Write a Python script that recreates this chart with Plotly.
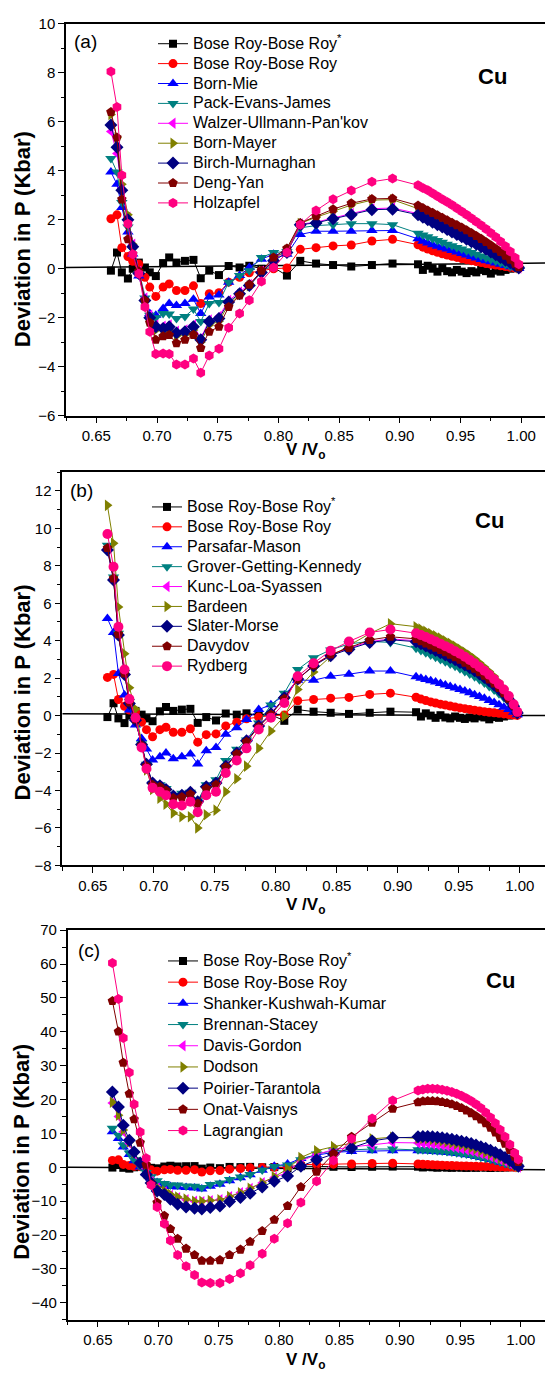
import plotly.graph_objects as go

# ---------------- data ----------------
V = [0.662, 0.667, 0.671, 0.676, 0.680, 0.685, 0.690, 0.694, 0.699, 0.705,
     0.710, 0.716, 0.723, 0.730, 0.736, 0.743, 0.751, 0.759, 0.768, 0.776,
     0.786, 0.796, 0.807, 0.818, 0.831, 0.845, 0.860, 0.877, 0.894,
     0.915, 0.919, 0.923, 0.927, 0.931, 0.935, 0.939, 0.943, 0.947, 0.951,
     0.955, 0.959, 0.963, 0.967, 0.971, 0.975, 0.979, 0.983, 0.987, 0.991,
     0.995, 0.998]

bose_roy_star = [-0.08, 0.66, -0.15, -0.40, 0.00, 0.25, 0.05, -0.15, -0.30, 0.23, 0.46, 0.25, 0.32, 0.36, -0.39, -0.08, -0.26, 0.11, 0.05, 0.12, 0.00, 0.05, -0.28, 0.32, 0.21, 0.15, 0.09, 0.15, 0.21,
                 0.18, -0.05, 0.12, 0.00, -0.12, 0.02, -0.10, -0.15, -0.05, -0.12, -0.18, -0.10, -0.15, -0.05, -0.10, -0.20, -0.08, -0.12, -0.05, 0.00, 0.05, 0.10]
bose_roy = [2.04, 2.20, 0.86, 0.50, 0.30, 0.19, -0.35, -0.75, -1.13, -0.75, -0.62, -0.89, -0.89, -0.70, -1.42, -1.02, -0.98, -0.55, -0.35, -0.17, -0.08, 0.00, 0.03, 0.79, 0.86, 0.93, 0.97, 1.13, 1.20,
            0.98, 0.88, 0.80, 0.73, 0.67, 0.61, 0.56, 0.51, 0.46, 0.41, 0.37, 0.33, 0.29, 0.25, 0.21, 0.18, 0.15, 0.12, 0.09, 0.06, 0.03, 0.01]

# panel (a)
born_mie = [3.95, 3.45, 2.50, 1.50, 0.60, -0.30, -1.22, -1.83, -1.90, -1.62, -1.42, -1.50, -1.42, -1.25, -1.83, -1.16, -1.07, -0.55, -0.28, 0.05, 0.39, 0.59, 0.59, 1.40, 1.53, 1.53, 1.53, 1.56, 1.56,
            1.22, 1.12, 1.05, 0.98, 0.92, 0.86, 0.80, 0.74, 0.68, 0.62, 0.56, 0.50, 0.44, 0.38, 0.33, 0.28, 0.23, 0.18, 0.13, 0.08, 0.04, 0.01]
pack_evans_james = [4.50, 3.95, 2.70, 1.70, 0.80, -0.20, -1.20, -1.90, -2.00, -1.83, -1.85, -2.03, -1.95, -1.65, -2.16, -1.42, -1.38, -0.55, -0.28, -0.08, 0.46, 0.66, 0.70, 1.67, 1.76, 1.80, 1.84, 1.84, 1.80,
                    1.45, 1.38, 1.30, 1.22, 1.15, 1.08, 1.00, 0.94, 0.87, 0.80, 0.73, 0.66, 0.59, 0.52, 0.45, 0.38, 0.31, 0.24, 0.17, 0.10, 0.05, 0.01]
walzer = [5.60, 4.70, 3.30, 2.10, 1.00, -0.10, -1.20, -1.90, -2.30, -2.35, -2.30, -2.55, -2.50, -2.30, -2.85, -2.10, -1.95, -1.30, -0.95, -0.65, -0.10, 0.35, 0.68, 1.82, 1.90, 2.08, 2.25, 2.45, 2.48,
          2.25, 2.15, 2.05, 1.95, 1.85, 1.75, 1.65, 1.55, 1.45, 1.35, 1.25, 1.15, 1.04, 0.93, 0.82, 0.70, 0.59, 0.48, 0.36, 0.25, 0.13, 0.03]
born_mayer = [6.30, 5.35, 3.45, 2.20, 1.00, -0.10, -1.30, -2.00, -2.50, -2.55, -2.50, -2.75, -2.70, -2.50, -3.00, -2.30, -2.15, -1.45, -1.05, -0.70, -0.10, 0.40, 0.75, 1.85, 2.10, 2.35, 2.60, 2.80, 2.82,
              2.45, 2.35, 2.25, 2.15, 2.05, 1.95, 1.85, 1.75, 1.64, 1.53, 1.42, 1.30, 1.18, 1.06, 0.93, 0.80, 0.67, 0.54, 0.41, 0.28, 0.14, 0.04]
birch_murnaghan = [5.87, 4.96, 3.20, 2.00, 0.90, -0.20, -1.30, -2.00, -2.37, -2.44, -2.37, -2.63, -2.57, -2.37, -2.90, -2.16, -2.03, -1.36, -1.02, -0.69, -0.15, 0.32, 0.66, 1.80, 1.87, 2.04, 2.20, 2.41, 2.43,
                   2.20, 2.10, 2.00, 1.90, 1.80, 1.70, 1.60, 1.50, 1.40, 1.30, 1.20, 1.10, 1.00, 0.90, 0.79, 0.68, 0.57, 0.46, 0.35, 0.24, 0.12, 0.03]
deng_yan = [6.40, 5.36, 2.83, 1.20, 0.60, -0.10, -1.30, -2.20, -2.90, -2.76, -2.71, -3.04, -2.90, -2.70, -3.24, -2.57, -2.37, -1.56, -1.09, -0.65, -0.08, 0.46, 0.83, 1.87, 2.14, 2.43, 2.67, 2.85, 2.87,
            2.58, 2.48, 2.38, 2.28, 2.18, 2.08, 1.98, 1.88, 1.78, 1.68, 1.57, 1.46, 1.34, 1.22, 1.09, 0.96, 0.82, 0.68, 0.53, 0.37, 0.20, 0.06]
holzapfel = [8.05, 6.60, 3.82, 1.84, 0.59, -0.21, -1.56, -2.57, -3.48, -3.46, -3.48, -3.91, -3.91, -3.67, -4.25, -3.54, -3.27, -2.41, -1.83, -1.29, -0.52, 0.05, 0.66, 1.80, 2.38, 2.84, 3.19, 3.55, 3.68,
             3.41, 3.30, 3.20, 3.08, 2.96, 2.84, 2.72, 2.60, 2.47, 2.34, 2.20, 2.06, 1.92, 1.77, 1.62, 1.46, 1.29, 1.11, 0.92, 0.70, 0.45, 0.18]

# panel (b)
parsafar_mason = [5.19, 4.44, 2.25, 1.10, 0.30, -0.50, -1.23, -1.79, -2.37, -2.20, -2.00, -2.30, -2.20, -2.05, -2.58, -1.88, -1.70, -1.00, -0.65, -0.21, 0.32, 0.58, 1.10, 1.89, 1.89, 2.10, 2.21, 2.38, 2.38,
                  2.07, 2.00, 1.93, 1.86, 1.79, 1.72, 1.64, 1.56, 1.48, 1.40, 1.31, 1.22, 1.12, 1.02, 0.92, 0.81, 0.70, 0.58, 0.45, 0.32, 0.18, 0.05]
grover_getting_kennedy = [9.10, 7.40, 4.40, 2.30, 0.75, -0.20, -1.50, -2.60, -3.65, -3.70, -3.90, -4.25, -4.15, -4.10, -4.55, -3.70, -3.43, -2.40, -1.80, -1.30, -0.40, 0.57, 1.20, 2.46, 3.09, 3.51, 3.83, 3.96, 3.91,
                          3.60, 3.48, 3.36, 3.24, 3.12, 3.00, 2.88, 2.76, 2.63, 2.50, 2.36, 2.22, 2.07, 1.91, 1.74, 1.56, 1.37, 1.17, 0.95, 0.70, 0.40, 0.10]
kunc_loa_syassen = [8.90, 7.30, 4.35, 2.25, 0.70, -0.20, -1.60, -2.65, -3.65, -3.80, -4.00, -4.35, -4.30, -4.15, -4.65, -3.85, -3.65, -2.70, -2.00, -1.35, -0.55, 0.10, 0.95, 1.95, 2.70, 3.25, 3.60, 3.95, 4.10,
                    4.00, 3.89, 3.77, 3.65, 3.53, 3.41, 3.29, 3.16, 3.03, 2.89, 2.75, 2.60, 2.44, 2.27, 2.09, 1.89, 1.68, 1.45, 1.18, 0.88, 0.51, 0.15]
bardeen = [11.23, 9.20, 5.80, 3.30, 1.49, 0.35, -1.50, -2.90, -3.95, -4.42, -4.74, -5.20, -5.40, -5.40, -6.00, -5.30, -5.05, -4.07, -3.37, -2.70, -1.75, -0.82, -0.04, 1.40, 2.33, 3.16, 3.74, 4.38, 4.91,
           4.75, 4.62, 4.50, 4.38, 4.26, 4.14, 4.00, 3.86, 3.72, 3.56, 3.40, 3.22, 3.03, 2.82, 2.60, 2.36, 2.10, 1.80, 1.46, 1.06, 0.58, 0.15]
slater_morse = [8.85, 7.25, 4.30, 2.20, 0.65, -0.25, -1.55, -2.60, -3.60, -3.75, -3.95, -4.30, -4.25, -4.10, -4.60, -3.80, -3.60, -2.70, -2.00, -1.35, -0.55, 0.10, 0.95, 1.95, 2.65, 3.20, 3.55, 3.90, 4.05,
                3.95, 3.84, 3.72, 3.60, 3.48, 3.36, 3.24, 3.11, 2.98, 2.84, 2.70, 2.55, 2.39, 2.22, 2.04, 1.85, 1.64, 1.41, 1.15, 0.86, 0.50, 0.14]
davydov = [8.95, 7.33, 4.35, 2.25, 0.70, -0.20, -1.60, -2.70, -3.70, -3.80, -4.00, -4.40, -4.35, -4.20, -4.70, -3.90, -3.70, -2.75, -2.05, -1.40, -0.60, 0.05, 0.90, 1.93, 2.68, 3.26, 3.61, 4.04, 4.21,
           4.10, 3.98, 3.86, 3.74, 3.62, 3.50, 3.38, 3.25, 3.12, 2.98, 2.83, 2.67, 2.50, 2.32, 2.13, 1.93, 1.71, 1.47, 1.20, 0.90, 0.52, 0.15]
rydberg = [9.70, 7.95, 4.75, 2.46, 0.88, -0.12, -1.70, -2.84, -3.86, -4.07, -4.25, -4.74, -4.80, -4.60, -5.16, -4.25, -4.07, -3.07, -2.40, -1.75, -0.74, -0.12, 0.67, 2.10, 2.80, 3.47, 3.96, 4.44, 4.60,
           4.40, 4.30, 4.20, 4.08, 3.96, 3.84, 3.71, 3.58, 3.44, 3.30, 3.14, 2.97, 2.79, 2.60, 2.40, 2.18, 1.94, 1.68, 1.39, 1.05, 0.60, 0.20]

# panel (c)
shanker = [10.5, 8.5, 6.0, 3.8, 1.9, 0.1, -1.8, -3.2, -4.5, -5.3, -5.7, -5.8, -6.0, -6.1, -6.4, -5.6, -5.0, -4.0, -3.1, -2.2, -0.9, 0.3, 1.0, 2.6, 3.6, 4.4, 4.7, 4.9, 4.9,
           4.9, 4.85, 4.8, 4.7, 4.6, 4.5, 4.4, 4.25, 4.1, 3.9, 3.7, 3.5, 3.2, 2.9, 2.6, 2.3, 1.9, 1.5, 1.1, 0.7, 0.35, 0.05]
brennan_stacey = [11.5, 9.5, 6.6, 4.2, 2.2, 0.3, -1.5, -2.8, -4.0, -4.8, -5.2, -5.2, -5.5, -5.6, -6.0, -5.1, -4.6, -3.6, -2.9, -2.1, -0.8, 0.2, 0.7, 2.2, 3.9, 4.9, 5.2, 5.4, 5.4,
                  5.2, 5.2, 5.1, 5.0, 4.9, 4.8, 4.7, 4.5, 4.3, 4.1, 3.9, 3.6, 3.3, 3.0, 2.7, 2.4, 2.0, 1.6, 1.2, 0.8, 0.4, 0.1]
davis_gordon = [19.0, 15.0, 10.5, 7.0, 4.0, 1.0, -2.0, -4.2, -6.2, -7.3, -8.3, -9.0, -9.6, -10.0, -10.2, -9.9, -9.6, -8.7, -7.5, -6.3, -4.6, -3.0, -1.5, 1.8, 3.8, 5.2, 6.0, 6.6, 7.3,
                7.2, 7.1, 7.0, 6.9, 6.7, 6.5, 6.3, 6.1, 5.8, 5.5, 5.2, 4.9, 4.5, 4.1, 3.7, 3.2, 2.7, 2.2, 1.7, 1.1, 0.5, 0.1]
dodson = [19.2, 15.4, 11.0, 7.5, 4.3, 1.3, -1.8, -4.0, -6.0, -7.0, -8.0, -8.8, -9.4, -10.0, -10.0, -9.8, -9.6, -8.6, -7.5, -6.2, -4.6, -2.8, -0.5, 2.9, 4.9, 6.1, 7.1, 8.4, 8.9,
          8.6, 8.5, 8.4, 8.2, 8.0, 7.8, 7.5, 7.2, 6.9, 6.6, 6.2, 5.8, 5.4, 4.9, 4.4, 3.9, 3.3, 2.7, 2.1, 1.4, 0.7, 0.2]
poirier_tarantola = [22.2, 17.8, 12.4, 8.0, 4.5, 1.3, -2.1, -4.6, -7.0, -8.0, -9.4, -10.9, -11.7, -12.1, -12.3, -11.9, -11.4, -10.1, -8.9, -7.7, -5.8, -4.1, -2.6, 0.3, 2.2, 3.9, 5.7, 7.8, 8.7,
                     9.0, 9.1, 9.1, 9.0, 8.9, 8.7, 8.5, 8.3, 8.0, 7.7, 7.4, 7.0, 6.6, 6.1, 5.6, 5.0, 4.4, 3.7, 2.9, 2.0, 1.0, 0.3]
onat_vaisnys = [49.1, 40.1, 30.9, 21.7, 14.2, 7.3, 0.8, -5.0, -10.4, -14.3, -18.2, -21.1, -24.0, -25.9, -27.6, -27.6, -27.4, -25.9, -24.3, -22.0, -18.8, -15.5, -11.4, -5.8, -1.3, 4.0, 9.0, 13.2, 17.3,
                19.2, 19.5, 19.6, 19.6, 19.5, 19.3, 19.0, 18.6, 18.1, 17.5, 16.8, 16.0, 15.1, 14.1, 13.0, 11.7, 10.3, 8.7, 7.0, 5.1, 3.1, 1.6]
lagrangian = [60.3, 49.7, 38.2, 28.0, 18.6, 10.4, 2.7, -5.2, -11.7, -16.7, -21.6, -25.9, -29.2, -31.8, -34.0, -34.2, -34.2, -33.0, -31.3, -28.9, -25.5, -21.1, -16.5, -10.4, -4.1, 2.0, 8.4, 14.4, 19.7,
              22.7, 23.0, 23.2, 23.2, 23.1, 22.9, 22.6, 22.2, 21.7, 21.1, 20.4, 19.6, 18.6, 17.5, 16.2, 14.7, 13.0, 11.1, 9.0, 6.7, 4.2, 2.3]

NAMES_A = ["Bose Roy-Bose Roy<sup>*</sup>", "Bose Roy-Bose Roy", "Born-Mie", "Pack-Evans-James",
           "Walzer-Ullmann-Pan'kov", "Born-Mayer", "Birch-Murnaghan", "Deng-Yan", "Holzapfel"]
NAMES_B = ["Bose Roy-Bose Roy<sup>*</sup>", "Bose Roy-Bose Roy", "Parsafar-Mason", "Grover-Getting-Kennedy",
           "Kunc-Loa-Syassen", "Bardeen", "Slater-Morse", "Davydov", "Rydberg"]
NAMES_C = ["Bose Roy-Bose Roy<sup>*</sup>", "Bose Roy-Bose Roy", "Shanker-Kushwah-Kumar", "Brennan-Stacey",
           "Davis-Gordon", "Dodson", "Poirier-Tarantola", "Onat-Vaisnys", "Lagrangian"]
VALUES_A = [bose_roy_star, bose_roy, born_mie, pack_evans_james, walzer, born_mayer, birch_murnaghan, deng_yan, holzapfel]
VALUES_B = [bose_roy_star, bose_roy, parsafar_mason, grover_getting_kennedy, kunc_loa_syassen, bardeen, slater_morse, davydov, rydberg]
VALUES_C = [bose_roy_star, bose_roy, shanker, brennan_stacey, davis_gordon, dodson, poirier_tarantola, onat_vaisnys, lagrangian]

X_TICK_LABELS = ["0.65", "0.70", "0.75", "0.80", "0.85", "0.90", "0.95", "1.00"]

for arr in VALUES_A + VALUES_B + VALUES_C:
    assert len(arr) == len(V), len(arr)

# ---------------- styling ----------------
COLORS = ["#000000", "#FF0000", "#0000FF", "#008080", "#FF00FF", "#808000", "#000080", "#800000", "#FF0080"]
SYMBOLS_AC = ["square", "circle", "triangle-up", "triangle-down", "triangle-left", "triangle-right", "diamond", "pentagon", "hexagon"]
SYMBOLS_B = ["square", "circle", "triangle-up", "triangle-down", "triangle-left", "triangle-right", "diamond", "pentagon", "circle"]
SIZES = [8, 9, 10, 10, 10, 10, 10, 10, 10]

W, H = 545, 1383
FONT = "Liberation Sans, Arial, Helvetica, sans-serif"


def px(x):
    return x / W


def py(y):
    return 1 - y / H


panels = [
    dict(key="", names=NAMES_A, values=VALUES_A, symbols=SYMBOLS_AC, left=66, top=15, bottom=411.7,
         xmax=1.0196, yr=[-6, 10], dtick=2, minor=1, legend="legend", leg_x=153, leg_top=20, leg_font=13,
         label="(a)", label_pos=(85, 33), cu_pos=(492, 68), xt_y=448, yt_y=233,
         zero=[0.05, 0.23]),
    dict(key="2", names=NAMES_B, values=VALUES_B, symbols=SYMBOLS_B, left=62.3, top=469, bottom=867,
         xmax=1.0207, yr=[-8, 13], dtick=2, minor=1, legend="legend2", leg_x=147, leg_top=489, leg_font=13,
         label="(b)", label_pos=(81, 487), cu_pos=(489, 518), xt_y=908, yt_y=692,
         zero=[0.1, 0.0]),
    dict(key="3", names=NAMES_C, values=VALUES_C, symbols=SYMBOLS_AC, left=67.7, top=932.7, bottom=1327,
         xmax=1.0201, yr=[-45, 70], dtick=10, minor=5, legend="legend3", leg_x=163, leg_top=948, leg_font=14,
         label="(c)", label_pos=(89, 953), cu_pos=(500, 984), xt_y=1369, yt_y=1157,
         zero=[0.0, -0.7]),
]

fig = go.Figure()
layout = dict(width=W, height=H, margin=dict(l=0, r=0, t=0, b=0),
              paper_bgcolor="white", plot_bgcolor="white", showlegend=True)
annotations = []
shapes = []
tick_font = dict(family=FONT, size=15, color="black")

for p in panels:
    k = p["key"]
    xname, yname = "x" + k, "y" + k
    for name, vals, color, sym, size in zip(p["names"], p["values"], COLORS, p["symbols"], SIZES):
        fig.add_trace(go.Scatter(
            x=V, y=vals, mode="lines+markers",
            name="<span style='font-size:16px'>" + name + "</span>",
            line=dict(color=color, width=1),
            marker=dict(symbol=sym, size=size, color=color, line=dict(width=0)),
            xaxis=xname, yaxis=yname, legend=p["legend"], cliponaxis=False,
        ))
    layout["xaxis" + k] = dict(
        domain=[px(p["left"]), 1.0], range=[0.625, p["xmax"]], anchor=yname,
        showline=True, linecolor="black", linewidth=1.5, mirror=True,
        ticks="outside", ticklen=6, tickwidth=1.2, tickcolor="black",
        tickmode="array", tickvals=[float(t) for t in X_TICK_LABELS], ticktext=X_TICK_LABELS,
        minor=dict(dtick=0.025, tick0=0.625, ticks="outside", ticklen=3.5, tickwidth=1.2, tickcolor="black"),
        showgrid=False, zeroline=False, tickfont=tick_font,
    )
    layout["yaxis" + k] = dict(
        domain=[py(p["bottom"]), py(p["top"])], range=p["yr"], anchor=xname,
        showline=True, linecolor="black", linewidth=1.5, mirror=False,
        ticks="outside", ticklen=6, tickwidth=1.2, tickcolor="black",
        tick0=0, dtick=p["dtick"],
        minor=dict(dtick=p["minor"], ticks="outside", ticklen=3.5, tickwidth=1.2, tickcolor="black"),
        showgrid=False, zeroline=False, tickfont=tick_font,
    )
    layout[p["legend"]] = dict(
        x=px(p["leg_x"]), y=py(p["leg_top"]), xanchor="left", yanchor="top",
        bgcolor="rgba(0,0,0,0)", borderwidth=0, itemwidth=30,
        font=dict(family=FONT, size=p["leg_font"], color="black"),
    )
    shapes.append(dict(type="line", xref=xname, yref=yname, x0=0.625, x1=p["xmax"],
                       y0=p["zero"][0], y1=p["zero"][1], line=dict(color="black", width=1.5), layer="below"))
    annotations += [
        dict(text=p["label"], x=px(p["label_pos"][0]), y=py(p["label_pos"][1]), xref="paper", yref="paper",
             showarrow=False, xanchor="center", yanchor="middle", font=dict(family=FONT, size=19, color="black")),
        dict(text="Cu", x=px(p["cu_pos"][0]), y=py(p["cu_pos"][1]), xref="paper", yref="paper",
             showarrow=False, xanchor="center", yanchor="middle",
             font=dict(family=FONT, size=22, color="black", weight="bold")),
        dict(text="V /V<sub>o</sub>", x=px(305), y=py(p["xt_y"]), xref="paper", yref="paper",
             showarrow=False, xanchor="center", yanchor="middle",
             font=dict(family=FONT, size=17, color="black", weight="bold")),
        dict(text="Deviation in P (Kbar)", x=px(22), y=py(p["yt_y"]), xref="paper", yref="paper",
             showarrow=False, xanchor="center", yanchor="middle", textangle=-90,
             font=dict(family=FONT, size=22, color="black", weight="bold")),
    ]

layout["annotations"] = annotations
layout["shapes"] = shapes
fig.update_layout(**layout)
fig.write_html("out.html")
